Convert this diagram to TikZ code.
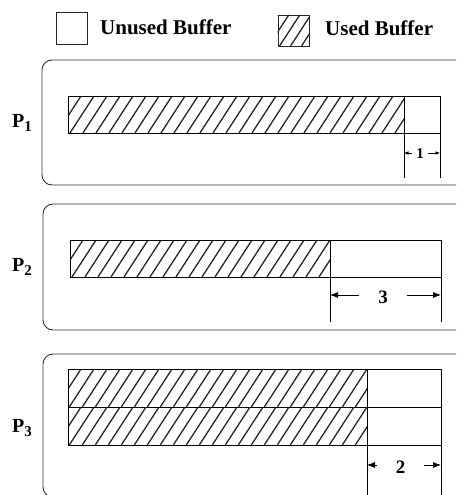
\documentclass[tikz,border=0pt]{standalone}
\usepackage{fontspec}
\setmainfont{Liberation Serif}
\usetikzlibrary{arrows.meta}
\newcommand\myhatch[5]{%
  \begin{scope}
    \clip (#1,#2) rectangle (#3,#4);
    \pgfmathsetmacro\hdx{0.65*(#4-#2)}
    \foreach \i in {0,...,36} {
      \pgfmathsetmacro\xx{#1-\hdx+#5*\i}
      \draw[hatchline] (\xx,#4) -- (\xx+\hdx,#2);
    }
  \end{scope}}
\begin{document}
\begin{tikzpicture}[x=1pt,y=-1pt,
  panel/.style={draw=black!80, line width=0.9pt, rounded corners=10pt},
  cell/.style={draw=black, line width=0.8pt},
  keybox/.style={draw=black!85, line width=0.9pt, inner sep=0pt, anchor=north west},
  dimline/.style={draw=black, line width=0.7pt},
  hatchline/.style={draw=black!85, line width=1.3pt},
  bigarrow/.style={-{Latex[length=8pt,width=6pt]}, line width=0.7pt},
  smallarrow/.style={-{Latex[length=4.5pt,width=3.5pt]}, line width=0.6pt},
  plabel/.style={font=\bfseries\fontsize{20}{20}\selectfont, inner sep=0pt, anchor=base west},
  legtext/.style={font=\bfseries\fontsize{21}{21}\selectfont, inner sep=0pt, anchor=base west},
  dimtext/.style={font=\bfseries\fontsize{19}{19}\selectfont, inner ysep=0pt, inner xsep=19pt, anchor=base},
  dimtextsmall/.style={font=\bfseries\fontsize{15}{15}\selectfont, inner ysep=0pt, inner xsep=4.5pt, anchor=base},
]
\clip (0,0) rectangle (456,495);
\fill[white] (0,0) rectangle (456,495);

% ---------- legend ----------
\node[keybox, minimum width=31pt, minimum height=32pt] (unusedkey) at (56,12) {};
\node[legtext] (unusedtxt) at (100,35) {Unused Buffer};
\myhatch{277.7}{15}{309.3}{46}{11}
\node[keybox, minimum width=31.6pt, minimum height=31pt] (usedkey) at (277.7,15) {};
\node[legtext] (usedtxt) at (325,36) {Used Buffer};

% ---------- P1 ----------
\draw[panel] (42,60) rectangle (480,185);
\node[plabel] (p1) at (12,127) {P\raisebox{-0.2em}{\fontsize{15}{15}\selectfont 1}};
\myhatch{68}{96}{404}{133}{13}
\draw[cell] (68,96) rectangle (440,133);
\coordinate (b1a) at (404,96);
\coordinate (b1b) at (440,96);
\coordinate (e1a) at (404,178);
\coordinate (e1b) at (440,178);
\draw[dimline] (b1a) -- (e1a);
\draw[dimline] (b1b) -- (e1b);
\node[dimtextsmall] (d1) at (420,158.3) {1};
\coordinate (a1l) at (404,153);
\coordinate (a1r) at (440,153);
\draw[smallarrow] (d1.west |- a1l) -- (a1l);
\draw[smallarrow] (d1.east |- a1r) -- (a1r);

% ---------- P2 ----------
\draw[panel] (43,204) rectangle (480,330);
\node[plabel] (p2) at (12,271) {P\raisebox{-0.2em}{\fontsize{15}{15}\selectfont 2}};
\myhatch{70}{240}{330}{277}{13}
\draw[cell] (70,240) rectangle (441,277);
\coordinate (b2a) at (330,240);
\coordinate (b2b) at (441,240);
\coordinate (e2a) at (330,322);
\coordinate (e2b) at (441,322);
\draw[dimline] (b2a) -- (e2a);
\draw[dimline] (b2b) -- (e2b);
\node[dimtext] (d2) at (383,303.3) {3};
\coordinate (a2l) at (330,295);
\coordinate (a2r) at (441,295);
\draw[bigarrow] (d2.west |- a2l) -- (a2l);
\draw[bigarrow] (d2.east |- a2r) -- (a2r);

% ---------- P3 ----------
\draw[panel] (43,354) rectangle (480,497);
\node[plabel] (p3) at (12,432) {P\raisebox{-0.2em}{\fontsize{15}{15}\selectfont 3}};
\myhatch{68}{369}{367}{407}{13}
\myhatch{68}{407}{367}{445}{13}
\draw[cell] (68,369) rectangle (441,445);
\draw[cell] (68,407) -- (441,407);
\coordinate (b3a) at (367,369);
\coordinate (b3b) at (441,369);
\coordinate (e3a) at (367,496);
\coordinate (e3b) at (441,496);
\draw[dimline] (b3a) -- (e3a);
\draw[dimline] (b3b) -- (e3b);
\node[dimtext] (d3) at (400.5,473.3) {2};
\coordinate (a3l) at (367,465);
\coordinate (a3r) at (441,465);
\draw[bigarrow] (d3.west |- a3l) -- (a3l);
\draw[bigarrow] (d3.east |- a3r) -- (a3r);
\end{tikzpicture}
\end{document}
